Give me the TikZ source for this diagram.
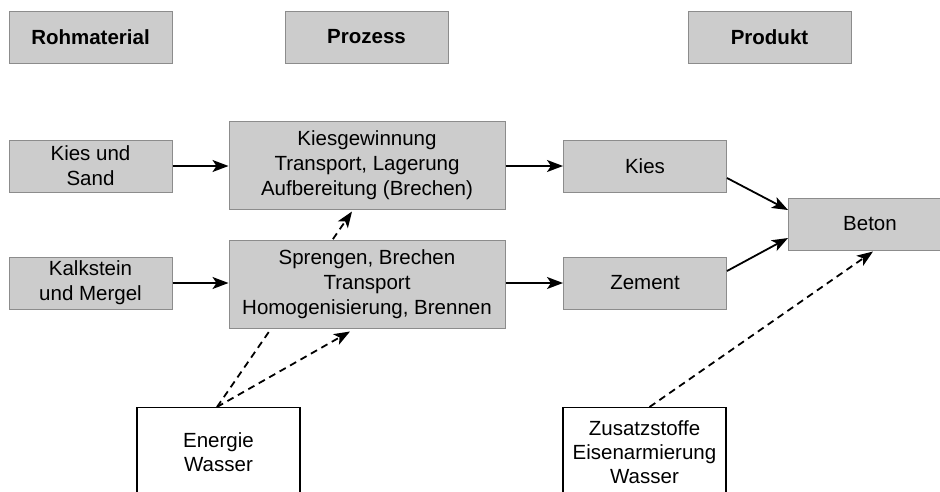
\documentclass[tikz,border=0pt]{standalone}
\usepackage{fontspec}
\setmainfont{Liberation Sans}
\usetikzlibrary{arrows.meta,backgrounds}
\definecolor{boxfill}{RGB}{204,204,204}
\definecolor{boxline}{RGB}{140,140,140}
\tikzset{
  graybox/.style={draw=boxline, line width=1pt, fill=boxfill, align=center,
    inner sep=0pt, font=\fontsize{20.5}{25}\selectfont},
  headbox/.style={graybox, minimum width=163pt, minimum height=52pt,
    font=\fontsize{20.5}{25}\selectfont\bfseries},
  smallbox/.style={graybox, minimum width=163pt, minimum height=52pt},
  procbox/.style={graybox, minimum width=276pt, minimum height=88pt},
  whitebox/.style={draw=black, line width=1.4pt, fill=white,
    minimum width=163pt, minimum height=130pt, inner sep=0pt},
  boxtext/.style={align=center, inner sep=0pt, font=\fontsize{20.5}{24}\selectfont},
  flow/.style={line width=1.8pt, -{Stealth[length=16pt,width=12pt,inset=4pt]}},
  aux/.style={flow, dash pattern=on 7pt off 5pt}
}
\begin{document}
\begin{tikzpicture}[x=1pt,y=-1pt]
\useasboundingbox (0,0) rectangle (940,491);

% column headings
\node[headbox] (rohm) at (90.5,37) {Rohmaterial};
\node[headbox] (proz) at (366.5,37) {Prozess};
\node[headbox] (prod) at (769.5,37) {Produkt};

% raw materials
\node[smallbox] (sand) at (90.5,166) {Kies und\\Sand};
\node[smallbox] (kalk) at (90.5,283) {Kalkstein\\und Mergel};

% processes
\node[procbox] (kiesg) at (367,165) {Kiesgewinnung\\Transport, Lagerung\\Aufbereitung (Brechen)};
\node[procbox] (spreng) at (367,284) {Sprengen, Brechen\\Transport\\Homogenisierung, Brennen};

% products
\node[smallbox] (kies) at (645,166) {Kies};
\node[smallbox] (zement) at (645,283) {Zement};
\node[smallbox] (beton) at (870,224) {Beton};

% auxiliary inputs
\node[whitebox, anchor=north] (energie) at (218.5,407) {};
\node[boxtext] (energietext) at (218.5,452) {Energie\\Wasser};
\node[whitebox, anchor=north] (zusatz) at (644.5,407) {};
\node[boxtext] (zusatztext) at (644.5,452) {Zusatzstoffe\\Eisenarmierung\\Wasser};

% main material flow
\draw[flow] (sand) -- (kiesg.west |- sand);
\draw[flow] (kalk) -- (spreng.west |- kalk);
\draw[flow] (kiesg.east |- kies) -- (kies);
\draw[flow] (spreng.east |- zement) -- (zement);
\draw[flow] ([yshift=-12pt]kies.east) -- ([yshift=14pt]beton.west);
\draw[flow] ([yshift=12pt]zement.east) -- ([yshift=-14pt]beton.west);

% energy and additives
\begin{scope}[on background layer]
  \draw[aux] ([xshift=-1.5pt]energie.north) -- ([xshift=-15pt,yshift=-2pt]kiesg.south);
\end{scope}
\draw[aux] ([xshift=-1.5pt]energie.north) -- ([xshift=-17pt,yshift=-3pt]spreng.south);
\draw[aux] ([xshift=5pt]zusatz.north) -- ([xshift=3pt,yshift=-1pt]beton.south);
\end{tikzpicture}
\end{document}
